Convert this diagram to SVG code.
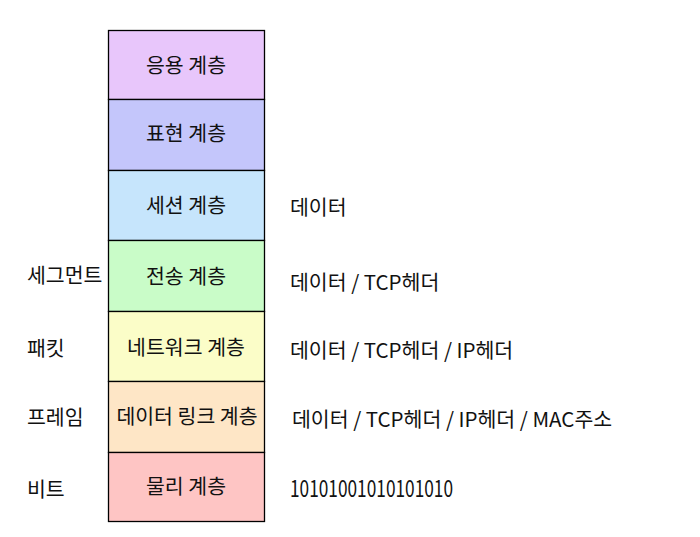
<svg xmlns="http://www.w3.org/2000/svg" width="700" height="537" viewBox="0 0 700 537">
<style>
.box{stroke:#000;stroke-width:1.3}
text{font-family:"Noto Sans CJK KR","Noto Sans",sans-serif;font-size:20.5px;fill:#111}
.c{text-anchor:middle}
</style>
<rect width="700" height="537" fill="#fff"/>
<g id="layer-app"><rect class="box" x="108.5" y="30.5" width="156" height="69" fill="#e8c6fb"/><text class="c" x="186" y="73">응용 계층</text></g>
<g id="layer-pres"><rect class="box" x="108.5" y="99.5" width="156" height="71" fill="#c4c6fb"/><text class="c" x="186" y="141">표현 계층</text></g>
<g id="layer-sess"><rect class="box" x="108.5" y="170.5" width="156" height="70" fill="#c6e5fc"/><text class="c" x="186" y="213">세션 계층</text></g>
<g id="layer-trans"><rect class="box" x="108.5" y="240.5" width="156" height="71" fill="#c9fcc8"/><text class="c" x="186" y="284">전송 계층</text></g>
<g id="layer-net"><rect class="box" x="108.5" y="311.5" width="156" height="70" fill="#fbfdc8"/><text class="c" x="186" y="355">네트워크 계층</text></g>
<g id="layer-link"><rect class="box" x="108.5" y="381.5" width="156" height="71" fill="#fee6c6"/><text class="c" x="187" y="424">데이터 링크 계층</text></g>
<g id="layer-phys"><rect class="box" x="108.5" y="452.5" width="156" height="69" fill="#fec5c4"/><text class="c" x="186" y="494">물리 계층</text></g>
<g id="left-labels">
<text x="27" y="283">세그먼트</text>
<text x="27" y="356">패킷</text>
<text x="27" y="425">프레임</text>
<text x="27" y="497">비트</text>
</g>
<g id="right-labels">
<text x="290" y="215">데이터</text>
<text x="290" y="290">데이터 / TCP헤더</text>
<text x="290" y="358">데이터 / TCP헤더 / IP헤더</text>
<text x="292" y="427">데이터 / TCP헤더 / IP헤더 / MAC주소</text>
<text x="290" y="497" style="font-size:23px" textLength="163" lengthAdjust="spacingAndGlyphs">10101001010101010</text>
</g>
<g id="connectors"/>
</svg>
